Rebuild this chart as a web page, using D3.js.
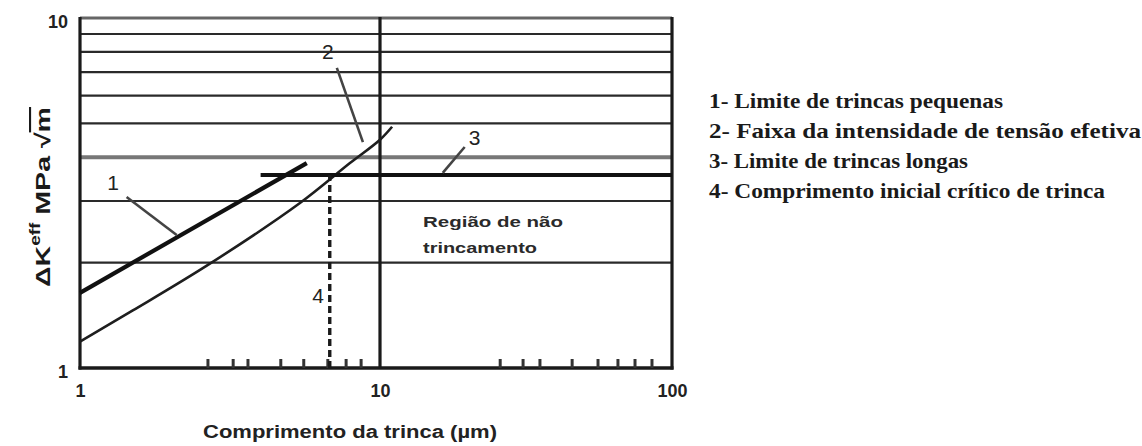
<!DOCTYPE html>
<html>
<head>
<meta charset="utf-8">
<script src="https://cdn.jsdelivr.net/npm/d3@7"></script>
<style>
  html, body { margin: 0; padding: 0; background: #fff; }
  svg { display: block; }
</style>
</head>
<body>
<svg id="chart" width="1142" height="446"></svg>
<script>
// Crack length (µm) vs effective stress intensity range ΔK_eff (MPa√m)
const xTickValues = [1, 10, 100];
const yTickValues = [1, 10];
const gridValues = [2, 3, 4, 5, 6, 7, 8, 9];
const minorTicksLow = [2.67, 3.24, 3.63, 4.67, 5.57, 6.7, 7.71, 8.65];
const minorTicksHigh = [25.8, 30.9, 35.3, 45.5, 55.8, 65.3, 74.7, 85.4];

// 1 - short crack limit
const shortCrackX = [1, 5.7];
const shortCrackK = [1.64, 3.85];
// 2 - effective stress intensity band
const effectiveX = [1, 1.5, 2.67, 5.41, 7.94, 10, 11.0];
const effectiveK = [1.19, 1.46, 1.97, 2.96, 3.85, 4.49, 4.89];
// 3 - long crack limit (threshold)
const longCrackX = [4, 100];
const longCrackK = [3.56, 3.56];
// 4 - critical initial crack length
const criticalX = [6.8, 6.8];
const criticalK = [1, 3.56];

// Callout numbers and their leader lines
const calloutText = ["1", "2", "3", "4"];
const calloutX = [1.29, 6.7, 21.1, 6.22];
const calloutK = [3.38, 8.0, 4.57, 1.61];
const leaderX0 = [1.43, 7.18, 19.5];
const leaderK0 = [3.08, 7.2, 4.28];
const leaderX1 = [2.10, 8.77, 16.4];
const leaderK1 = [2.40, 4.42, 3.61];

const legendLines = [
  "1- Limite de trincas pequenas",
  "2- Faixa da intensidade de tensão efetiva",
  "3- Limite de trincas longas",
  "4- Comprimento inicial crítico de trinca"
];
const regionLines = ["Região de não", "trincamento"];

const svg = d3.select("#chart");
const x = d3.scaleLog().domain([1, 10, 100]).range([80, 380, 672]);
const y = d3.scaleLog().domain([1, 10]).range([368, 18]);

const sans = "'Liberation Sans', Arial, sans-serif";
const serif = "'Liberation Serif', 'Times New Roman', serif";

// horizontal grid
svg.append("g").selectAll("line").data(gridValues).join("line")
  .attr("x1", x(1)).attr("x2", x(100))
  .attr("y1", d => y(d)).attr("y2", d => y(d))
  .attr("stroke", d => d === 4 ? "#777" : "#2a2a2a")
  .attr("stroke-width", d => d === 4 ? 4 : 2.2);

// frame
svg.append("line").attr("x1", x(1)).attr("x2", x(100)).attr("y1", y(10)).attr("y2", y(10))
  .attr("stroke", "#666").attr("stroke-width", 3);
svg.append("line").attr("x1", x(1)).attr("x2", x(1)).attr("y1", y(10) - 1).attr("y2", y(1) + 1.5)
  .attr("stroke", "#1a1a1a").attr("stroke-width", 3.2);
svg.append("line").attr("x1", x(100)).attr("x2", x(100)).attr("y1", y(10) - 1).attr("y2", y(1) + 1.5)
  .attr("stroke", "#1a1a1a").attr("stroke-width", 3.2);
svg.append("line").attr("x1", x(10)).attr("x2", x(10)).attr("y1", y(10) - 1).attr("y2", y(1))
  .attr("stroke", "#1a1a1a").attr("stroke-width", 3.2);
svg.append("line").attr("x1", x(1) - 1.5).attr("x2", x(100) + 1.5).attr("y1", y(1)).attr("y2", y(1))
  .attr("stroke", "#1a1a1a").attr("stroke-width", 3.4);

// minor ticks along the bottom edge
svg.append("g").selectAll("line").data(minorTicksLow.concat(minorTicksHigh)).join("line")
  .attr("x1", d => x(d)).attr("x2", d => x(d))
  .attr("y1", y(1)).attr("y2", y(1) - 9)
  .attr("stroke", "#333").attr("stroke-width", 3);

// axis tick labels
const xAxis = svg.append("g").attr("transform", `translate(0,${y(1)})`)
  .call(d3.axisBottom(x).tickValues(xTickValues).tickFormat(d3.format("d")).tickSize(0).tickPadding(16));
xAxis.select(".domain").remove();
xAxis.selectAll("text").attr("font-family", sans).attr("font-weight", "bold")
  .attr("font-size", 18).attr("fill", "#222");

const yAxis = svg.append("g").attr("transform", `translate(${x(1)},0)`)
  .call(d3.axisLeft(y).tickValues(yTickValues).tickFormat(d3.format("d")).tickSize(0).tickPadding(12));
yAxis.select(".domain").remove();
yAxis.selectAll("text").attr("font-family", sans).attr("font-weight", "bold")
  .attr("font-size", 18).attr("fill", "#222").attr("dy", "0.5em");

// curves
const straight = d3.line().x(d => x(d[0])).y(d => y(d[1]));
const smooth = d3.line().x(d => x(d[0])).y(d => y(d[1])).curve(d3.curveCatmullRom);
svg.append("path").datum(d3.zip(effectiveX, effectiveK)).attr("d", smooth)
  .attr("fill", "none").attr("stroke", "#1e1e1e").attr("stroke-width", 2.6);
svg.append("path").datum(d3.zip(shortCrackX, shortCrackK)).attr("d", straight)
  .attr("fill", "none").attr("stroke", "#111").attr("stroke-width", 4.2);
svg.append("path").datum(d3.zip(longCrackX, longCrackK)).attr("d", straight)
  .attr("fill", "none").attr("stroke", "#111").attr("stroke-width", 4.2);
svg.append("path").datum(d3.zip(criticalX, criticalK)).attr("d", straight)
  .attr("fill", "none").attr("stroke", "#1a1a1a").attr("stroke-width", 3.4)
  .attr("stroke-dasharray", "7,4");

// leader lines
svg.append("g").selectAll("line").data(d3.range(leaderX0.length)).join("line")
  .attr("x1", i => x(leaderX0[i])).attr("y1", i => y(leaderK0[i]))
  .attr("x2", i => x(leaderX1[i])).attr("y2", i => y(leaderK1[i]))
  .attr("stroke", "#444").attr("stroke-width", 2.6);

// callout numbers
svg.append("g").selectAll("text").data(d3.range(calloutText.length)).join("text")
  .attr("x", i => x(calloutX[i])).attr("y", i => y(calloutK[i]))
  .attr("dy", "0.36em").attr("text-anchor", "middle")
  .attr("font-family", sans).attr("font-size", 21).attr("fill", "#222")
  .text(i => calloutText[i]);

// region annotation
svg.append("g").selectAll("text").data(regionLines).join("text")
  .attr("x", 423).attr("y", (d, i) => 227 + i * 26)
  .attr("font-family", sans).attr("font-weight", "bold").attr("font-size", 15).attr("fill", "#2a2a2a")
  .attr("textLength", (d, i) => [140, 114][i]).attr("lengthAdjust", "spacingAndGlyphs")
  .text(d => d);

// axis titles
svg.append("text").attr("x", 203).attr("y", 438)
  .attr("font-family", sans).attr("font-weight", "bold").attr("font-size", 18).attr("fill", "#222")
  .attr("textLength", 294).attr("lengthAdjust", "spacingAndGlyphs")
  .text("Comprimento da trinca  (µm)");

const yTitle = svg.append("text").attr("transform", "translate(50,197) rotate(-90)")
  .attr("text-anchor", "middle")
  .attr("font-family", sans).attr("font-weight", "bold").attr("font-size", 21).attr("fill", "#1a1a1a")
  .attr("textLength", 180).attr("lengthAdjust", "spacingAndGlyphs");
yTitle.append("tspan").text("ΔK");
yTitle.append("tspan").attr("dy", -10).attr("font-size", 14).text("eff");
yTitle.append("tspan").attr("dy", 10).text("  MPa √");
yTitle.append("tspan").style("text-decoration", "overline").text("m");

// legend
svg.append("g").selectAll("text").data(legendLines).join("text")
  .attr("x", 709).attr("y", (d, i) => 108 + i * 30)
  .attr("font-family", serif).attr("font-weight", "bold").attr("font-size", 21).attr("fill", "#1a1a1a")
  .attr("textLength", (d, i) => [294, 432, 259, 396][i]).attr("lengthAdjust", "spacingAndGlyphs")
  .text(d => d);
</script>
</body>
</html>
